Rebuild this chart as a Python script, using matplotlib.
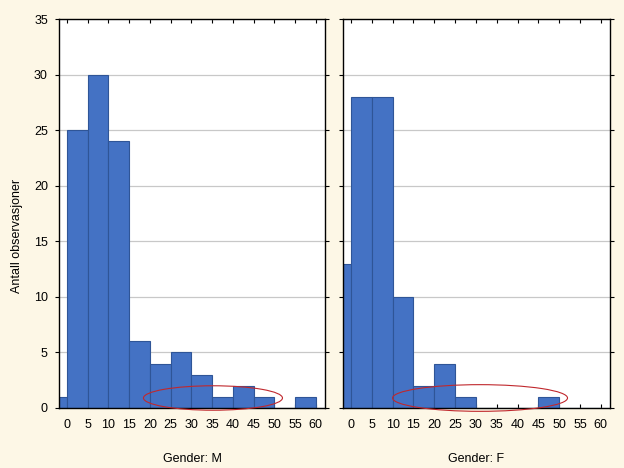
import numpy as np
import matplotlib.pyplot as plt
from matplotlib.patches import Ellipse

plt.rcParams['font.family'] = ['Liberation Sans', 'DejaVu Sans']
plt.rcParams['font.size'] = 9

# bin edges (left edges) and counts
bin_left = [-5, 0, 5, 10, 15, 20, 25, 30, 35, 40, 45, 50, 55]
counts_m = [1, 25, 30, 24, 6, 4, 5, 3, 1, 2, 1, 0, 1]
counts_f = [13, 28, 28, 10, 2, 4, 1, 0, 0, 0, 1, 0, 0]
panel_labels = ['Gender: M', 'Gender: F']
xticks = list(range(0, 61, 5))
yticks = list(range(0, 36, 5))

# red ellipses drawn on the chart (center x, center y, width, height) in data units
ellipses = [(35.2, 0.9, 33.5, 2.2), (31.0, 0.9, 42.0, 2.4)]

bg = '#fdf7e6'
fig = plt.figure(figsize=(6.24, 4.68), dpi=100, facecolor=bg)
ax1 = fig.add_axes([59/624, 60/468, 266/624, 389/468])
ax2 = fig.add_axes([343/624, 60/468, 267/624, 389/468])

for ax, counts, lab, ell in zip([ax1, ax2], [counts_m, counts_f], panel_labels, ellipses):
    ax.set_facecolor('white')
    ax.bar(bin_left, counts, width=5, align='edge', color='#4472c4',
           edgecolor='#2f5597', linewidth=0.8, zorder=2)
    ax.set_xlim(-1.9, 62.2)
    ax.set_ylim(0, 35)
    ax.set_xticks(xticks)
    ax.set_yticks(yticks)
    ax.grid(axis='y', color='#c8c8c8', linewidth=0.9, zorder=0)
    ax.tick_params(axis='both', which='both', top=True, right=True, length=3,
                   width=0.8, colors='black', labelsize=9)
    ax.tick_params(axis='x', direction='in', pad=8)
    ax.tick_params(axis='y', direction='out', pad=5)
    for s in ax.spines.values():
        s.set_linewidth(1.0)
    ax.set_xlabel(lab, labelpad=16, fontsize=9)
    e = Ellipse((ell[0], ell[1]), ell[2], ell[3], fill=False, edgecolor='#c0282d',
                linewidth=0.8, zorder=3, clip_on=False)
    ax.add_patch(e)

ax1.set_ylabel('Antall observasjoner', fontsize=9)
ax1.yaxis.set_label_coords(-0.135, 0.442)
ax2.set_yticklabels([])

plt.savefig('out.png', dpi=100, facecolor=bg)
